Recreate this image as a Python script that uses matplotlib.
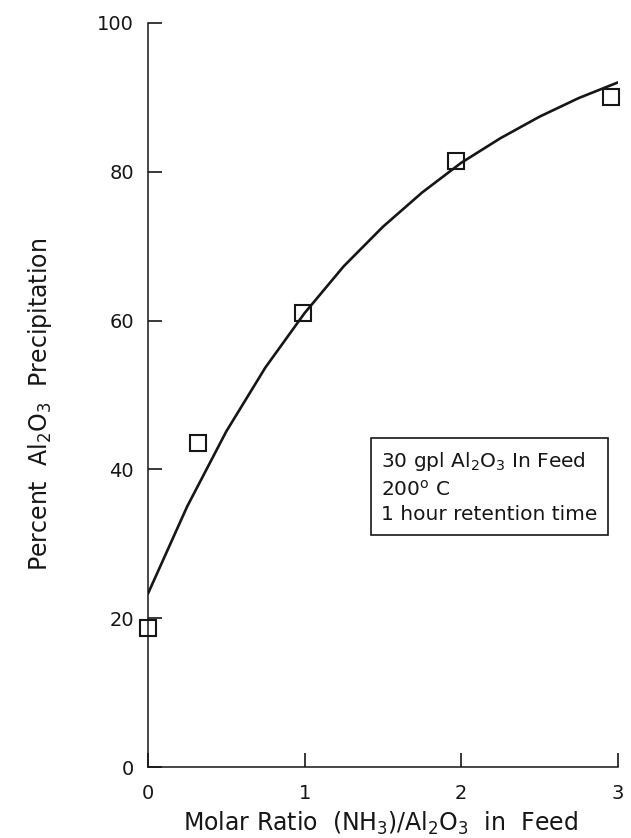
import matplotlib.pyplot as plt

plt.rcParams['font.family'] = ['DejaVu Sans']
plt.rcParams['mathtext.fontset'] = 'dejavusans'

# measured points
ratio = [0.0, 0.32, 0.99, 1.97, 2.96]
precip = [18.7, 43.6, 61.0, 81.5, 90.1]

# smooth curve
curve_x = [0.0, 0.25, 0.5, 0.75, 1.0, 1.25, 1.5, 1.75, 2.0, 2.25, 2.5, 2.75, 3.0]
curve_y = [23.3, 35.0, 45.1, 53.7, 61.0, 67.3, 72.6, 77.2, 81.2, 84.5, 87.4, 89.9, 92.0]

xticks = [0, 1, 2, 3]
yticks = [0, 20, 40, 60, 80, 100]

ink = '#161616'

fig = plt.figure(figsize=(6.31, 8.38), dpi=100)
ax = fig.add_axes([0.2345, 0.0847, 0.7445, 0.8879])

ax.plot(curve_x, curve_y, color=ink, lw=1.9, solid_capstyle='round')
ax.plot(ratio, precip, linestyle='none', marker='s', markersize=11,
        markerfacecolor='none', markeredgecolor=ink, markeredgewidth=1.5,
        clip_on=False)

ax.set_xlim(0, 3)
ax.set_ylim(0, 100)
ax.set_xticks(xticks)
ax.set_yticks(yticks)
ax.spines['top'].set_visible(False)
ax.spines['right'].set_visible(False)
for s in ['left', 'bottom']:
    ax.spines[s].set_linewidth(1.1)
    ax.spines[s].set_color(ink)
ax.tick_params(direction='in', length=10, width=1.2, labelsize=14,
               color=ink, labelcolor=ink)
ax.tick_params(axis='x', pad=12)
ax.tick_params(axis='y', pad=10)

ax.set_xlabel('Molar Ratio  (NH$_3$)/Al$_2$O$_3$  in  Feed', fontsize=17,
              color=ink)
ax.xaxis.set_label_coords(0.495, -0.058)
ax.set_ylabel('Percent  Al$_2$O$_3$  Precipitation', fontsize=17,
              color=ink)
ax.yaxis.set_label_coords(-0.2, 0.487)

ax.text(0.497, 0.376,
        '30 gpl Al$_2$O$_3$ In Feed\n200$^{\\rm o}$ C\n1 hour retention time',
        transform=ax.transAxes, fontsize=14.5, color=ink,
        va='center', ha='left', linespacing=1.4,
        bbox=dict(boxstyle='square,pad=0.5', fc='white', ec=ink, lw=1.2))

plt.savefig('out.png', dpi=100)
